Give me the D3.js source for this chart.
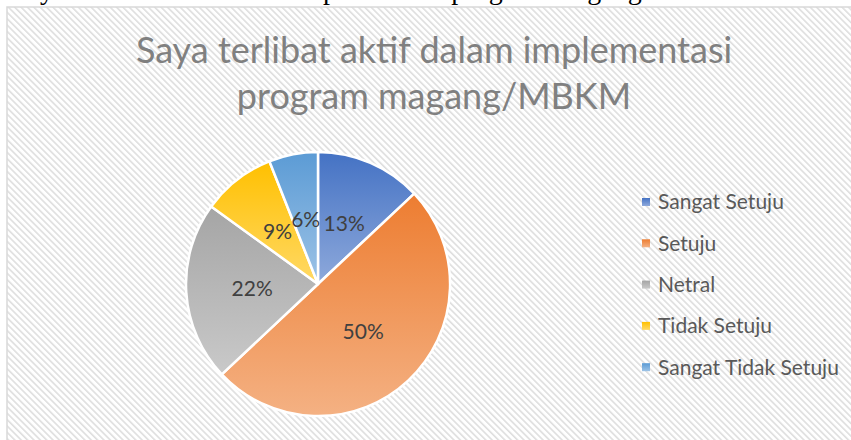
<!DOCTYPE html>
<html>
<head>
<meta charset="utf-8">
<script src="https://cdn.jsdelivr.net/npm/d3@7"></script>
<style>
  body { margin: 0; background: #fff; }
  svg { display: block; }
</style>
</head>
<body>
<svg id="chart" width="851" height="440"></svg>
<script>
var categories = ["Sangat Setuju", "Setuju", "Netral", "Tidak Setuju", "Sangat Tidak Setuju"];
var values = [13, 50, 22, 9, 6];
var colorsTop = ["#4472c4", "#ed7d31", "#a5a5a5", "#ffc000", "#5b9bd5"];
var colorsBottom = ["#8ea9db", "#f4b183", "#c9c9c9", "#ffd966", "#9dc3e6"];
var titleLines = ["Saya terlibat aktif dalam implementasi", "program magang/MBKM"];
var captionText = "Saya terlibat aktif dalam implementasi program magang";

var WIDTH = 851, HEIGHT = 440;
var CX = 318, CY = 284, R = 132;

var svg = d3.select("#chart");
var defs = svg.append("defs");

// diagonal hatch background
var pat = defs.append("pattern").attr("id", "hatch")
  .attr("patternUnits", "userSpaceOnUse")
  .attr("width", 4.5).attr("height", 4.5)
  .attr("patternTransform", "rotate(-45)");
pat.append("rect").attr("width", 4.5).attr("height", 4.5).attr("fill", "#ffffff");
pat.append("rect").attr("width", 1.6).attr("height", 4.5).attr("fill", "#dedede");

// gradients for slices
categories.forEach(function(c, i) {
  var g = defs.append("linearGradient").attr("id", "grad" + i)
    .attr("x1", 0).attr("y1", 0).attr("x2", 0).attr("y2", 1);
  g.append("stop").attr("offset", "0%").attr("stop-color", colorsTop[i]);
  g.append("stop").attr("offset", "100%").attr("stop-color", colorsBottom[i]);
});

// caption of the page above, cut off at the top
svg.append("text")
  .attr("x", 12).attr("y", -1)
  .attr("font-family", "Liberation Serif, Times New Roman, serif")
  .attr("font-size", 28)
  .attr("fill", "#000")
  .text(captionText);

// chart area
svg.append("rect")
  .attr("x", 7).attr("y", 7)
  .attr("width", WIDTH + 20).attr("height", HEIGHT + 20)
  .attr("fill", "url(#hatch)")
  .attr("stroke", "#d9d9d9").attr("stroke-width", 1.5);

// title
svg.append("g").selectAll("text")
  .data(titleLines)
  .enter().append("text")
  .attr("x", 434)
  .attr("y", (d, i) => 63 + i * 46)
  .attr("text-anchor", "middle")
  .attr("font-family", "Lato, Open Sans, sans-serif")
  .attr("font-size", 36)
  .attr("fill", "#808080")
  .text(d => d);

// pie
var pie = d3.pie().sort(null).value(d => d);
var arc = d3.arc().innerRadius(0).outerRadius(R);
var labelArc = d3.arc().innerRadius(R * 0.5).outerRadius(R * 0.5);
var arcs = pie(values);

var pg = svg.append("g").attr("transform", "translate(" + CX + "," + CY + ")");
pg.selectAll("path.slice")
  .data(arcs)
  .enter().append("path")
  .attr("class", "slice")
  .attr("d", arc)
  .attr("fill", (d, i) => "url(#grad" + i + ")")
  .attr("stroke", "#fff").attr("stroke-width", 2.5)
  .attr("stroke-linejoin", "round");

pg.selectAll("text.pct")
  .data(arcs)
  .enter().append("text")
  .attr("class", "pct")
  .attr("transform", d => "translate(" + labelArc.centroid(d) + ")")
  .attr("text-anchor", "middle")
  .attr("dy", "0.35em")
  .attr("font-family", "Lato, Open Sans, sans-serif")
  .attr("font-size", 21)
  .attr("fill", "#404040")
  .text(d => d.data + "%");

// legend
var legend = svg.append("g").selectAll("g")
  .data(categories)
  .enter().append("g")
  .attr("transform", (d, i) => "translate(642," + (202 + i * 41.3) + ")");
legend.append("rect")
  .attr("x", 0).attr("y", -4).attr("width", 8).attr("height", 8)
  .attr("fill", (d, i) => "url(#grad" + i + ")");
legend.append("text")
  .attr("x", 16).attr("dy", "0.35em")
  .attr("font-family", "Lato, Open Sans, sans-serif")
  .attr("font-size", 21)
  .attr("fill", "#595959")
  .text(d => d);
</script>
</body>
</html>
